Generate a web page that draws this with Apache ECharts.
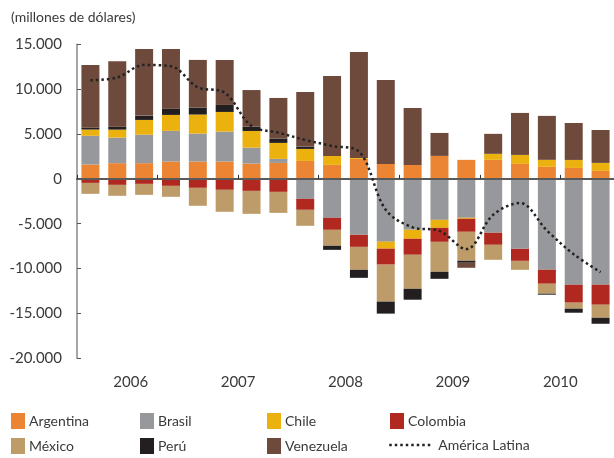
<!DOCTYPE html>
<html>
<head>
<meta charset="utf-8">
<script src="https://cdn.jsdelivr.net/npm/echarts@6/dist/echarts.min.js"></script>
<style>
  html, body { margin: 0; padding: 0; background: #fff; }
  #main { width: 614px; height: 458px; }
</style>
</head>
<body>
<div id="main"></div>
<script>
// trimestres 2006-2010, millones de dólares
var quarters = ['2006T1', '2006T2', '2006T3', '2006T4', '2007T1', '2007T2', '2007T3', '2007T4',
  '2008T1', '2008T2', '2008T3', '2008T4', '2009T1', '2009T2', '2009T3', '2009T4',
  '2010T1', '2010T2', '2010T3', '2010T4'];
var years = ['2006', '2007', '2008', '2009', '2010'];

var argentina = [1600, 1750, 1750, 1930, 1930, 1930, 1700, 1780, 2000, 1560, 2230, 1670, 1560, 2560, 2120, 2120, 1670, 1340, 1220, 890];
var brasil = [3200, 2850, 3180, 3420, 3120, 3340, 1780, 450, -2230, -4340, -6240, -7000, -5680, -4570, -4340, -6010, -7800, -10130, -11800, -11800];
var chile = [700, 890, 1640, 1780, 2120, 2190, 1860, 1780, 1340, 1000, 100, -780, -1000, -890, -110, 670, 1000, 780, 890, 890];
var colombia = [-450, -670, -560, -780, -1000, -1220, -1340, -1450, -1220, -1340, -1340, -1780, -1780, -1560, -1450, -1340, -1340, -1560, -2000, -2230];
var mexico = [-1220, -1220, -1220, -1220, -2000, -2450, -2560, -2340, -1780, -1780, -2560, -4120, -3790, -3340, -3230, -1670, -1000, -1110, -670, -1450];
var peru = [200, 330, 480, 700, 780, 780, 480, 480, 260, -450, -890, -1340, -1220, -780, -220, 0, 0, -110, -450, -670];
var venezuela = [7000, 7300, 7420, 6650, 5310, 5010, 4080, 4530, 6090, 8900, 11800, 9350, 6350, 2560, -560, 2230, 4680, 4900, 4120, 3670];
var americaLatina = [11000, 11300, 12700, 12550, 10200, 9600, 5900, 5150, 4340, 3670, 3040, -3450, -5400, -5800, -7830, -4000, -2700, -5750, -8400, -10400];

var txt = '#3a3a3a';
var font = 'Lato';

function fmt(v) {
  var s = String(Math.abs(v)).replace(/\B(?=(\d{3})+(?!\d))/g, '.');
  return (v < 0 ? '-' : '') + s;
}

function bar(name, data, color) {
  return {
    name: name,
    type: 'bar',
    stack: 'total',
    barWidth: 18,
    data: data,
    itemStyle: { color: color },
    emphasis: { disabled: true }
  };
}

function leg(name, left, top, extra) {
  var l = {
    data: [name],
    left: left,
    top: top,
    icon: 'rect',
    itemWidth: 14,
    itemHeight: 16,
    itemGap: 0,
    padding: 0,
    textStyle: { color: txt, fontSize: 14, fontFamily: font, padding: [0, 0, 0, -1] }
  };
  return Object.assign(l, extra || {});
}

var myChart = echarts.init(document.getElementById('main'));
myChart.setOption({
  animation: false,
  textStyle: { fontFamily: font },
  title: {
    text: '(millones de dólares)',
    left: 6,
    top: 5,
    textStyle: { color: txt, fontSize: 14, fontWeight: 'normal', fontFamily: font }
  },
  legend: [
    leg('Argentina', 11, 413),
    leg('Brasil', 140, 413),
    leg('Chile', 267, 413),
    leg('Colombia', 390, 413),
    leg('México', 11, 438),
    leg('Perú', 140, 438),
    leg('Venezuela', 267, 438),
    leg('América Latina', 388, 438, {
      icon: null,
      itemWidth: 42,
      itemHeight: 16,
      itemStyle: { opacity: 0 },
      lineStyle: { color: '#222', width: 2.5, type: [2.5, 3] },
      textStyle: { color: txt, fontSize: 14, fontFamily: font, padding: [0, 0, 0, 2] }
    })
  ],
  grid: { left: 77, right: 0, top: 44.3, bottom: 99.7 },
  xAxis: [{
    type: 'category',
    data: quarters,
    z: 3,
    axisLine: { onZero: true, lineStyle: { color: '#5a5a5a', width: 2 } },
    axisTick: { show: true, inside: true, length: 4, lineStyle: { color: '#333' } },
    axisLabel: { show: false }
  }, {
    type: 'category',
    data: years,
    position: 'bottom',
    axisLine: { show: false },
    axisTick: { show: false },
    axisLabel: { color: txt, fontSize: 15, fontFamily: font, margin: 16 }
  }],
  yAxis: {
    type: 'value',
    min: -20000,
    max: 15000,
    interval: 5000,
    axisLine: { show: true, lineStyle: { color: '#8a8a8a', width: 1.5 } },
    axisTick: { show: true, inside: true, length: 4, lineStyle: { color: '#555' } },
    splitLine: { show: false },
    axisLabel: { color: txt, fontSize: 15, fontFamily: font, margin: 15, formatter: fmt }
  },
  series: [
    bar('Argentina', argentina, '#EC8533'),
    bar('Brasil', brasil, '#97989C'),
    bar('Chile', chile, '#EBB10F'),
    bar('Colombia', colombia, '#B0281F'),
    bar('México', mexico, '#BE9C69'),
    bar('Perú', peru, '#231F20'),
    bar('Venezuela', venezuela, '#6E4A3C'),
    {
      name: 'América Latina',
      type: 'line',
      data: americaLatina,
      z: 5,
      smooth: 0.35,
      symbol: 'none',
      lineStyle: { color: '#222', width: 2.5, type: [2.5, 3] },
      itemStyle: { color: '#222' }
    }
  ]
});
</script>
</body>
</html>
